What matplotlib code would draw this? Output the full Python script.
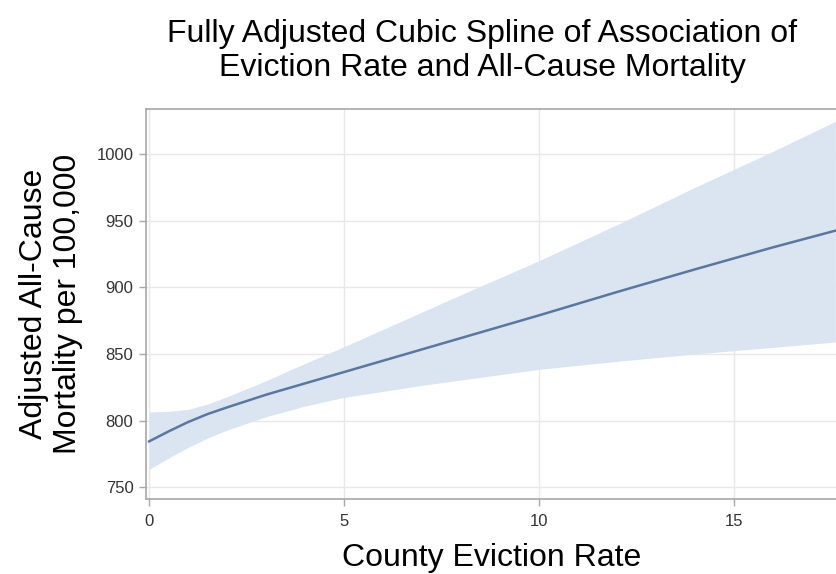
import matplotlib
matplotlib.use("Agg")
import matplotlib.pyplot as plt

plt.rcParams['font.family'] = ['Liberation Sans', 'DejaVu Sans']

# values
eviction = [0, 0.5, 1, 1.5, 2, 3, 4, 5, 6, 7, 8, 10, 12, 14, 16, 17.6]
mortality = [784.5, 792, 799, 805, 810, 819.5, 828, 836.5, 845, 853.5, 862,
             879, 896.5, 913.5, 930, 942.5]
lower_ci = [763.5, 772, 780, 787, 793, 803, 811, 817.5, 822, 826.5, 830.5,
            838.5, 844.5, 850, 855, 859]
upper_ci = [806.5, 807, 808.5, 812.5, 818, 830, 843, 855.5, 868.5, 881.5, 894.5,
            920, 947, 975, 1002, 1024.5]
xticks = [0, 5, 10, 15]
yticks = [750, 800, 850, 900, 950, 1000]

fig = plt.figure(figsize=(8.37, 5.74), dpi=100)
ax = fig.add_axes([146 / 837, 1 - 499 / 574, 1 - 146 / 837, (499 - 109) / 574])

ax.fill_between(eviction, lower_ci, upper_ci, color='#dbe5f1', linewidth=0, zorder=2)
ax.plot(eviction, mortality, color='#5a77a0', linewidth=1.8, zorder=3)

ax.set_xlim(-0.08, 17.64)
ax.set_ylim(741.3, 1033.7)
ax.set_xticks(xticks)
ax.set_yticks(yticks)
ax.grid(color='#e8e8e8', linewidth=1.0, zorder=0)
ax.set_axisbelow(True)

for s in ['left', 'bottom', 'top']:
    ax.spines[s].set_color('#a8a8a8')
    ax.spines[s].set_linewidth(1.2)
ax.spines['right'].set_visible(False)
ax.tick_params(colors='#a8a8a8', labelcolor='#333333', labelsize=12, length=5, width=1)
ax.tick_params(axis='x', pad=6)
ax.tick_params(axis='y', pad=4)

ax.set_xlabel('County Eviction Rate', fontsize=23, labelpad=10)
ax.set_ylabel('Adjusted All-Cause\nMortality per 100,000', fontsize=23, labelpad=10,
              linespacing=1.15)

fig.text(0.576, 0.911, 'Fully Adjusted Cubic Spline of Association of\nEviction Rate and All-Cause Mortality',
         ha='center', va='center', fontsize=23, linespacing=1.18)

fig.savefig('out.png', dpi=100)
